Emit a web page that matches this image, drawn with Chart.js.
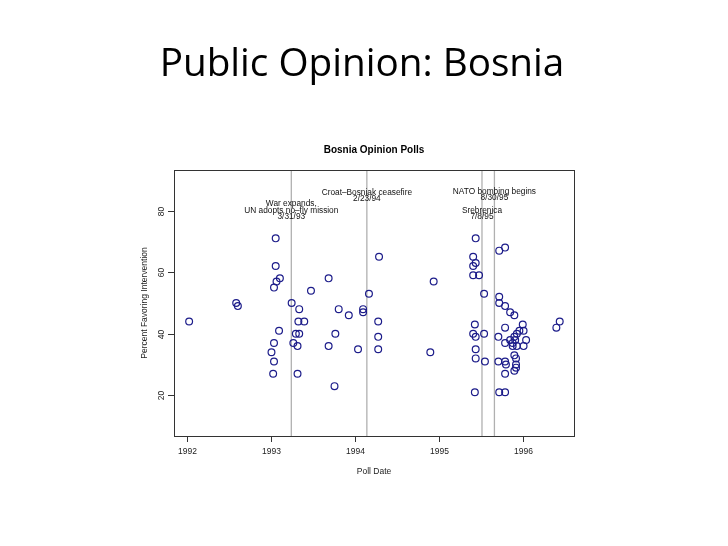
<!DOCTYPE html>
<html>
<head>
<meta charset="utf-8">
<script src="https://cdn.jsdelivr.net/npm/chart.js@4/dist/chart.umd.min.js"></script>
<style>
  html, body { margin: 0; padding: 0; background: #fff; }
  canvas { display: block; }
</style>
</head>
<body>
<canvas id="c" width="728" height="546"></canvas>
<script>
// poll dates (decimal year) and percent favoring intervention
const pollDate = [
  1992.03, 1992.59, 1992.61, 1993.06, 1993.06, 1993.11, 1993.07, 1993.04, 1993.25, 1993.34,
  1993.33, 1993.40, 1993.10, 1993.30, 1993.34, 1993.04, 1993.27, 1993.32, 1993.01, 1993.04,
  1993.03, 1993.32, 1993.76, 1993.69, 1993.48, 1993.81, 1993.93, 1994.10, 1994.10, 1994.17,
  1993.77, 1993.69, 1994.04, 1994.29, 1994.28, 1994.28, 1994.28, 1994.94, 1994.90, 1995.44,
  1995.41, 1995.44, 1995.41, 1995.41, 1995.48, 1995.54, 1995.43, 1995.41, 1995.44, 1995.54,
  1995.44, 1995.44, 1995.55, 1995.43, 1995.72, 1995.79, 1995.72, 1995.79, 1995.72, 1995.72,
  1995.79, 1995.85, 1995.90, 1995.71, 1995.79, 1995.79, 1995.85, 1996.00, 1996.01, 1995.96,
  1995.93, 1995.90, 1995.91, 1996.04, 1995.88, 1995.93, 1995.88, 1996.01, 1995.90, 1995.92,
  1995.71, 1995.79, 1995.80, 1995.92, 1995.92, 1995.90, 1995.79, 1996.44, 1996.40
];
const pctFavor = [
  44, 50, 49, 71, 62, 58, 57, 55, 50, 48,
  44, 44, 41, 40, 40, 37, 37, 36, 34, 31,
  27, 27, 23, 58, 54, 48, 46, 48, 47, 53,
  40, 36, 35, 65, 44, 39, 35, 57, 34, 71,
  65, 63, 62, 59, 59, 53, 43, 40, 39, 40,
  35, 32, 31, 21, 21, 21, 67, 68, 52, 50,
  49, 47, 46, 39, 42, 37, 38, 43, 41, 41,
  40, 39, 38, 38, 37, 36, 36, 36, 33, 32,
  31, 31, 30, 30, 29, 28, 27, 44, 42
];

const xTicks = [1992, 1993, 1994, 1995, 1996];
const yTicks = [20, 40, 60, 80];

// event lines: 3/31/93, 2/23/94, 7/8/95, 8/30/95
const eventDates = [1993.246, 1994.145, 1995.515, 1995.663];
const eventLabels = [
  ['War expands,', 'UN adopts no\u2013fly mission', '3/31/93'],
  ['Croat\u2013Bosniak ceasefire', '2/23/94'],
  ['Srebrenica', '7/8/95'],
  ['NATO bombing begins', '8/30/95']
];
const eventLabelY = [82.1, 85.9, 80, 86.3];

const FONT = '"Liberation Sans", Arial, sans-serif';

const decor = {
  id: 'decor',
  beforeDatasetsDraw(chart) {
    const { ctx, chartArea: a, scales: { x } } = chart;
    ctx.save();
    ctx.strokeStyle = '#b0b0b0';
    ctx.lineWidth = 1.3;
    eventDates.forEach(d => {
      const px = x.getPixelForValue(d);
      ctx.beginPath();
      ctx.moveTo(px, a.top);
      ctx.lineTo(px, a.bottom);
      ctx.stroke();
    });
    ctx.restore();
  },
  afterDraw(chart) {
    const { ctx, chartArea: a, scales: { x, y } } = chart;
    ctx.save();

    // slide title, sized to the reference width
    ctx.fillStyle = '#000';
    ctx.textAlign = 'center';
    ctx.textBaseline = 'alphabetic';
    ctx.font = '36px "Open Sans", sans-serif';
    const w = ctx.measureText('Public Opinion: Bosnia').width;
    ctx.font = (36 * 405 / w).toFixed(1) + 'px "Open Sans", sans-serif';
    ctx.fillText('Public Opinion: Bosnia', 362, 76);

    // box
    ctx.strokeStyle = '#333';
    ctx.lineWidth = 1;
    ctx.strokeRect(Math.round(a.left) + 0.5, Math.round(a.top) + 0.5,
      Math.round(a.right - a.left), Math.round(a.bottom - a.top));

    // chart title
    ctx.font = 'bold 10px ' + FONT;
    ctx.textBaseline = 'middle';
    ctx.fillStyle = '#000';
    ctx.fillText('Bosnia Opinion Polls', (a.left + a.right) / 2, 150);

    // x axis
    ctx.font = '8.5px ' + FONT;
    ctx.fillStyle = '#222';
    xTicks.forEach(t => {
      const px = Math.round(x.getPixelForValue(t)) + 0.5;
      ctx.beginPath();
      ctx.moveTo(px, a.bottom);
      ctx.lineTo(px, a.bottom + 6);
      ctx.stroke();
      ctx.fillText(String(t), px, 452);
    });
    ctx.fillText('Poll Date', (a.left + a.right) / 2, 472);

    // y axis
    yTicks.forEach(t => {
      const py = Math.round(y.getPixelForValue(t)) + 0.5;
      ctx.beginPath();
      ctx.moveTo(a.left, py);
      ctx.lineTo(a.left - 6, py);
      ctx.stroke();
      ctx.save();
      ctx.translate(161.5, py);
      ctx.rotate(-Math.PI / 2);
      ctx.fillText(String(t), 0, 0);
      ctx.restore();
    });
    ctx.save();
    ctx.translate(145, (a.top + a.bottom) / 2);
    ctx.rotate(-Math.PI / 2);
    ctx.fillText('Percent Favoring Intervention', 0, 0);
    ctx.restore();

    // event labels
    ctx.font = '8.3px ' + FONT;
    ctx.fillStyle = '#111';
    eventDates.forEach((d, i) => {
      const px = x.getPixelForValue(d);
      const py0 = y.getPixelForValue(eventLabelY[i]);
      eventLabels[i].forEach((line, j) => {
        ctx.fillText(line, px, py0 + j * 6.1);
      });
    });

    ctx.restore();
  }
};

new Chart(document.getElementById('c'), {
  type: 'scatter',
  data: {
    datasets: [{
      data: pollDate.map((d, i) => ({ x: d, y: pctFavor[i] })),
      pointStyle: 'circle',
      pointRadius: 3.4,
      pointBorderWidth: 1.2,
      borderColor: '#1c1c8a',
      backgroundColor: 'rgba(0,0,0,0)'
    }]
  },
  options: {
    responsive: false,
    animation: false,
    events: [],
    layout: { padding: { left: 174, right: 154, top: 170, bottom: 110 } },
    scales: {
      x: {
        type: 'linear', min: 1991.85, max: 1996.61,
        grid: { display: false }, border: { display: false }, ticks: { display: false },
        afterFit: s => { s.height = 0; }
      },
      y: {
        type: 'linear', min: 6.8, max: 93.2,
        grid: { display: false }, border: { display: false }, ticks: { display: false },
        afterFit: s => { s.width = 0; }
      }
    },
    plugins: { legend: { display: false }, tooltip: { enabled: false }, title: { display: false } }
  },
  plugins: [decor]
});
</script>
</body>
</html>
